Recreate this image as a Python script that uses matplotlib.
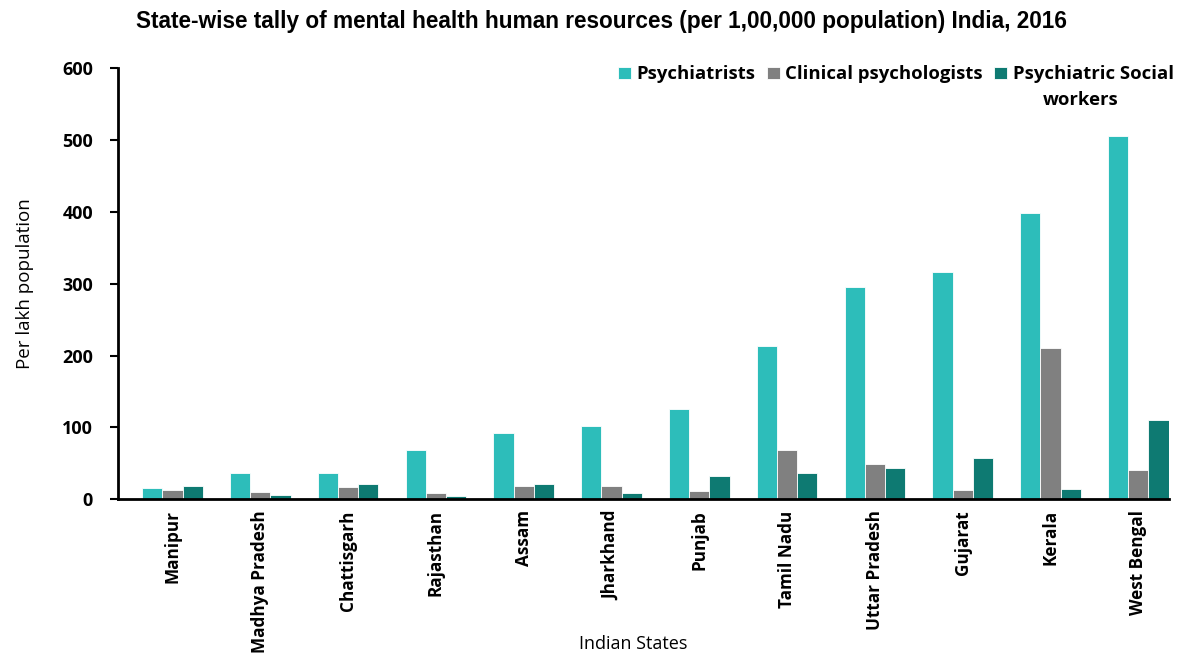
import matplotlib
matplotlib.use("Agg")
import matplotlib.pyplot as plt
import numpy as np

# ── Data ────────────────────────────────────────────────────
states = ["Manipur", "Madhya Pradesh", "Chattisgarh", "Rajasthan", "Assam",
          "Jharkhand", "Punjab", "Tamil Nadu", "Uttar Pradesh", "Gujarat",
          "Kerala", "West Bengal"]
psychiatrists = [15, 37, 37, 68, 92, 102, 126, 213, 295, 317, 398, 505]
clinical_psych = [13, 10, 17, 9, 19, 18, 12, 68, 49, 13, 211, 41]
social_workers = [18, 6, 21, 5, 21, 8, 32, 37, 44, 57, 14, 110]
# last legend label wraps in the source; second line is drawn separately
series_names = ["Psychiatrists", "Clinical psychologists",
                "Psychiatric Social"]
wrap_line = "workers"

# ── Style ───────────────────────────────────────────────────
TEAL = "#2DBDBA"
GREY = "#808080"
DTEAL = "#0E7A72"
FONT = ["Liberation Sans", "DejaVu Sans"]
LBL = ["Open Sans", "DejaVu Sans"]

fig = plt.figure(figsize=(11.85, 6.56), dpi=100)
ax = fig.add_axes([0.0996, 0.239, 0.887, 0.657])

x = np.arange(len(states))
w = 0.23
for off, vals, c, name in [(-w, psychiatrists, TEAL, series_names[0]),
                           (0, clinical_psych, GREY, series_names[1]),
                           (w, social_workers, DTEAL, series_names[2])]:
    ax.bar(x + off, vals, w, color=c, edgecolor="white", lw=0.6, label=name,
           zorder=2)

ax.set_xlim(-0.62, 11.35)
ax.set_ylim(0, 600)
ax.set_yticks(range(0, 601, 100))
ax.set_xticks(x)
ax.set_xticklabels(states, rotation=90, fontsize=12.3, fontweight="bold",
                   family=LBL)
for t in ax.get_yticklabels():
    t.set_fontsize(13)
    t.set_fontweight("bold")
    t.set_family(LBL)
ax.tick_params(axis="x", length=0, pad=8)
ax.tick_params(axis="y", length=6, width=1.5, direction="out", pad=12)

for s in ["top", "right"]:
    ax.spines[s].set_visible(False)
for s in ["left", "bottom"]:
    ax.spines[s].set_linewidth(2)
    ax.spines[s].set_color("black")

ax.set_ylabel("Per lakh population", fontsize=13.5, family=LBL, labelpad=20)
ax.set_xlabel("Indian States", fontsize=13, family=LBL)
ax.xaxis.set_label_coords(0.49, -0.315)

fig.text(0.508, 0.967, "State-wise tally of mental health human resources "
         "(per 1,00,000 population) India, 2016",
         ha="center", va="center", fontsize=16.3, fontweight="bold", family=FONT)

leg = ax.legend(ncol=3, loc="upper right", bbox_to_anchor=(1.02, 1.045),
                frameon=False, handlelength=0.7, handleheight=0.7,
                handletextpad=0.3, columnspacing=0.6,
                prop={"family": LBL, "weight": "bold", "size": 13.3})
fig.text(0.912, 0.848, wrap_line, ha="center", va="center", fontsize=13.3,
         fontweight="bold", family=LBL)

fig.savefig("out.png", dpi=100)
